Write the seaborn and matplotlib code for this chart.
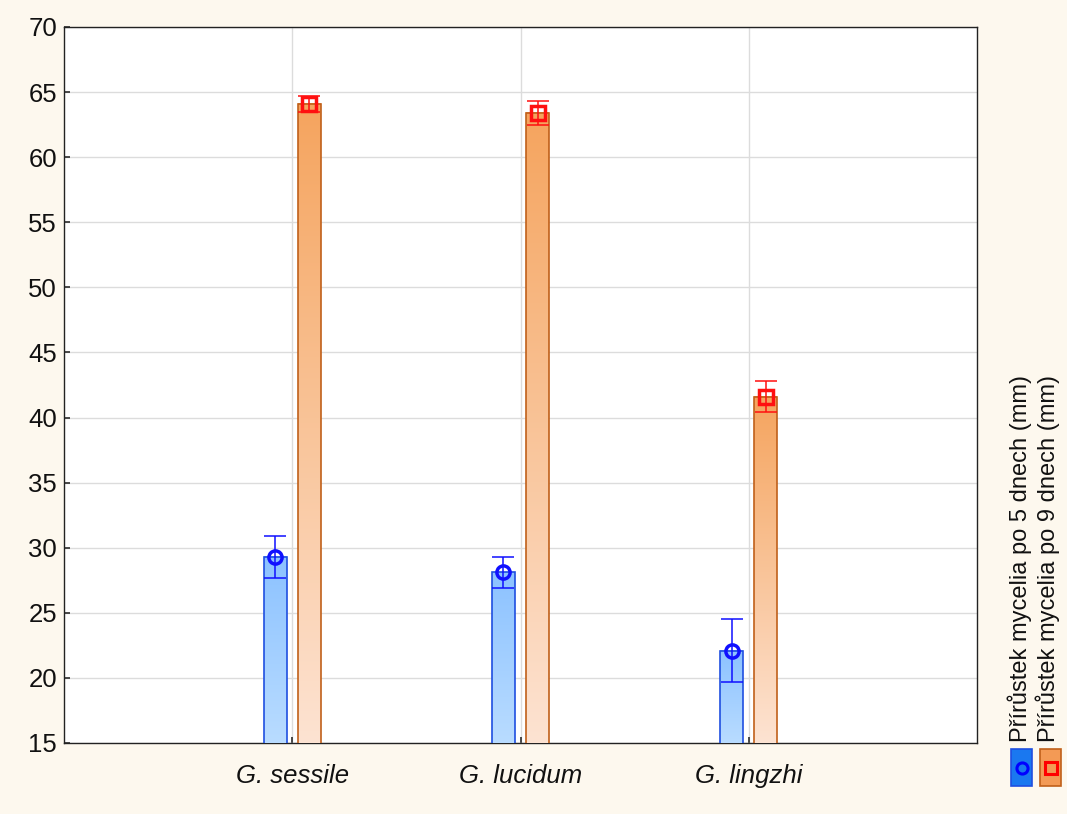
import numpy as np
import pandas as pd
import matplotlib
matplotlib.use("Agg")
import matplotlib.pyplot as plt
from matplotlib.patches import Rectangle
from matplotlib.colors import LinearSegmentedColormap
from matplotlib.lines import Line2D
import seaborn as sns

species = ["G. sessile", "G. lucidum", "G. lingzhi"]
series = ["Přírůstek mycelia po 5 dnech (mm)", "Přírůstek mycelia po 9 dnech (mm)"]
mean_5d = [29.3, 28.1, 22.1]
err_5d = [1.6, 1.2, 2.4]
mean_9d = [64.1, 63.4, 41.6]
err_9d = [0.6, 0.9, 1.2]
yticks = [15, 20, 25, 30, 35, 40, 45, 50, 55, 60, 65, 70]

df = pd.DataFrame({
    "species": species * 2,
    "series": [series[0]] * 3 + [series[1]] * 3,
    "value": mean_5d + mean_9d,
    "err": err_5d + err_9d,
})

sns.set_theme(style="white")
plt.rcParams["font.family"] = ["Liberation Sans", "DejaVu Sans"]

BG = "#fdf8ee"
fig = plt.figure(figsize=(10.67, 8.14), dpi=100, facecolor=BG)
ax = fig.add_axes([64 / 1067, 1 - 743 / 814, (977 - 64) / 1067, (743 - 27) / 814])
ax.set_facecolor("white")

edge = {series[0]: "#1f4fe0", series[1]: "#c0601a"}
grad = {
    series[0]: ("#b9dcff", "#8cc2ff"),
    series[1]: ("#fde3d2", "#f5a45e"),
}
mk = {series[0]: ("o", "#1010ff"), series[1]: ("s", "#ff1010")}

sns.barplot(data=df, x="species", y="value", hue="series", hue_order=series,
            order=species, width=0.3, gap=0.33, errorbar=None, ax=ax,
            legend=False, zorder=3)

ax.set_xlim(-1, 3)
ax.set_ylim(15, 70)

# gradient fill, outline, error bars and markers for each bar
containers = ax.containers
for cont, s in zip(containers, series):
    sub = df[df["series"] == s].set_index("species").loc[species]
    cmap = LinearSegmentedColormap.from_list("g", list(grad[s]))
    for bar, (_, row) in zip(cont.patches, sub.iterrows()):
        x0 = bar.get_x()
        w = bar.get_width()
        top = bar.get_height()
        bar.set_facecolor("none")
        bar.set_edgecolor(edge[s])
        bar.set_linewidth(1.2)
        bar.set_zorder(5)
        ax.imshow(np.linspace(0, 1, 256).reshape(-1, 1), cmap=cmap,
                  origin="lower", aspect="auto",
                  extent=(x0, x0 + w, 15, top), zorder=4)
        cx = x0 + w / 2
        ax.errorbar(cx, row["value"], yerr=row["err"], fmt="none",
                    ecolor=mk[s][1], elinewidth=1.1, capsize=8, capthick=1.1,
                    zorder=6)
        ax.plot([cx], [row["value"]], marker=mk[s][0], ms=9.5, mfc="none",
                mec=mk[s][1], mew=2.5, zorder=7)
ax.set_xlim(-1, 3)
ax.set_ylim(15, 70)

ax.set_yticks(yticks)
ax.set_xticks(range(len(species)))
ax.set_xticklabels(species, fontstyle="italic", fontsize=18.5)
ax.tick_params(axis="y", labelsize=18.5, direction="in", length=4, pad=5,
               left=True, color="#333333", labelcolor="#111111")
ax.tick_params(axis="x", direction="in", length=4, pad=15, bottom=True,
               color="#333333", labelcolor="#111111")
ax.set_xlabel("")
ax.set_ylabel("")
ax.grid(True, color="#dcdcdc", linewidth=1, zorder=0)
ax.set_axisbelow(True)
for sp in ax.spines.values():
    sp.set_color("#222222")
    sp.set_linewidth(1)

# legend drawn on the right margin, vertical text with swatches below
lx = [1020 / 1067, 1048 / 1067]
for x, s in zip(lx, series):
    fig.text(x, 1 - 742 / 814, s, rotation=90, ha="center", va="bottom",
             fontsize=17, color="#111111")
sw_x = [1011 / 1067, 1040 / 1067]
for x, s in zip(sw_x, series):
    fc = "#1a78f0" if s == series[0] else "#f39a55"
    fig.add_artist(Rectangle((x, 1 - 786 / 814), 21 / 1067, 37 / 814,
                             transform=fig.transFigure, facecolor=fc,
                             edgecolor=edge[s], linewidth=1.2))
    fig.add_artist(Line2D([x + 10.5 / 1067], [1 - 767.5 / 814],
                          transform=fig.transFigure, marker=mk[s][0], ms=8,
                          mfc="none", mec="#0000ff" if s == series[0] else "#ff0000",
                          mew=2.2))

fig.savefig("out.png", dpi=100, facecolor=BG)
